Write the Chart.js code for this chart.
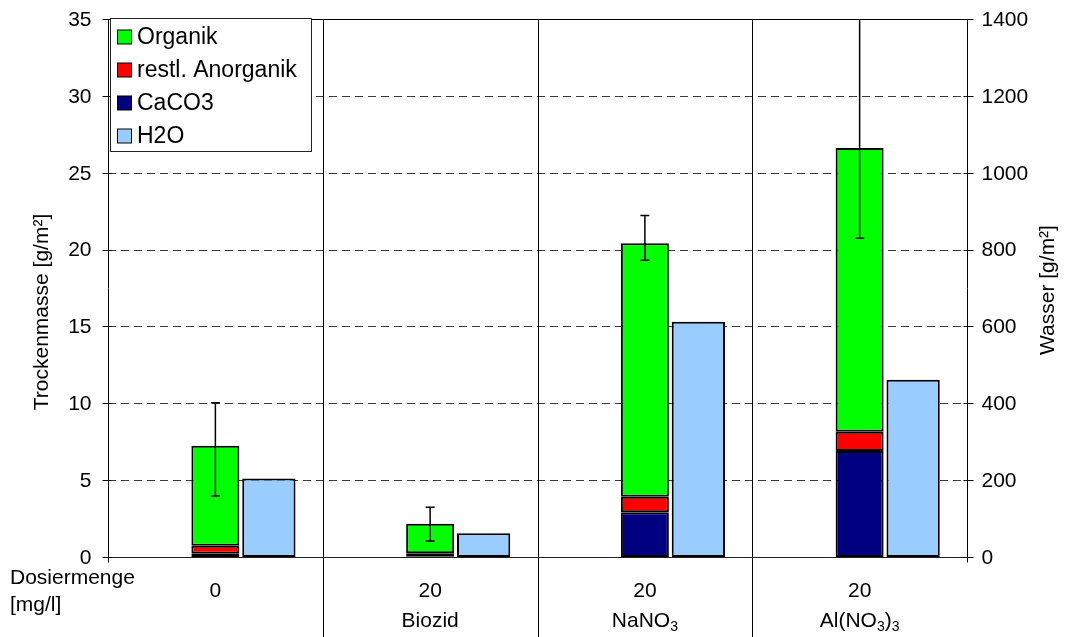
<!DOCTYPE html>
<html>
<head>
<meta charset="utf-8">
<script src="https://cdn.jsdelivr.net/npm/chart.js@4/dist/chart.umd.min.js"></script>
<style>
  html, body { margin: 0; padding: 0; background: #ffffff; }
  #wrap { width: 1072px; height: 637px; }
</style>
</head>
<body>
<div id="wrap"><canvas id="c" width="1072" height="637"></canvas></div>
<script>
// Treatments (categories) and their axis labels
const categories = ['0', 'Biozid', 'NaNO3', 'Al(NO3)3'];
const doseLabels = ['0', '20', '20', '20'];
// second label line: pieces of [text, isSubscript]
const treatmentParts = [
  [],
  [['Biozid', false]],
  [['NaNO', false], ['3', true]],
  [['Al(NO', false], ['3', true], [')', false], ['3', true]]
];

// Dry mass components [g/m²], stacked bottom to top
const caco3 = [0.21, 0.05, 2.91, 6.90];
const restAnorganik = [0.53, 0.19, 1.01, 1.25];
const organik = [6.50, 1.93, 16.49, 18.45];
// Water [g/m²], right axis
const h2o = [204, 62, 612, 461];
// Error range of total dry mass [g/m²]
const errLow = [3.97, 1.04, 19.30, 20.73];
const errHigh = [10.04, 3.23, 22.22, 36.50];

// Axis ticks
const leftTicks = [0, 5, 10, 15, 20, 25, 30, 35];
const rightTicks = [0, 200, 400, 600, 800, 1000, 1200, 1400];

const FONT = '"Liberation Sans", Arial, sans-serif';

const decorations = {
  id: 'decorations',
  beforeDatasetsDraw(chart) {
    const { ctx, chartArea: a, scales } = chart;
    const y = scales.y;
    ctx.save();
    // dashed horizontal grid
    ctx.strokeStyle = '#3a3a3a';
    ctx.lineWidth = 1;
    ctx.setLineDash([8, 5]);
    leftTicks.forEach(v => {
      if (v === 0 || v === 35) return;
      const py = Math.round(y.getPixelForValue(v)) + 0.5;
      ctx.beginPath();
      ctx.moveTo(a.left, py);
      ctx.lineTo(a.right, py);
      ctx.stroke();
    });
    ctx.setLineDash([]);
    // category separators, running down through the label area
    const x = scales.x;
    const w = (a.right - a.left) / categories.length;
    ctx.strokeStyle = '#000';
    ctx.lineWidth = 1;
    for (let i = 1; i < categories.length; i++) {
      const px = Math.round(x.getPixelForValue(i) - w / 2) + 0.5;
      ctx.beginPath();
      ctx.moveTo(px, a.top);
      ctx.lineTo(px, chart.height);
      ctx.stroke();
    }
    ctx.restore();
  },
  afterDatasetsDraw(chart) {
    const { ctx, chartArea: a, scales } = chart;
    const y = scales.y, y2 = scales.y2, x = scales.x;
    ctx.save();

    // error bars on the stacked dry mass bars
    const meta = chart.getDatasetMeta(3);
    ctx.save();
    ctx.beginPath();
    ctx.rect(a.left, a.top, a.right - a.left, a.bottom - a.top);
    ctx.clip();
    ctx.strokeStyle = '#000';
    ctx.lineWidth = 1.5;
    meta.data.forEach((bar, i) => {
      const cx = bar.x;
      const lo = y.getPixelForValue(errLow[i]);
      const hi = y.getPixelForValue(errHigh[i]);
      ctx.beginPath();
      ctx.moveTo(cx, lo);
      ctx.lineTo(cx, hi);
      ctx.moveTo(cx - 4.5, lo);
      ctx.lineTo(cx + 4.5, lo);
      ctx.moveTo(cx - 4.5, hi);
      ctx.lineTo(cx + 4.5, hi);
      ctx.stroke();
    });
    ctx.restore();

    // frame and axes
    ctx.strokeStyle = '#000';
    ctx.lineWidth = 1;
    const L = Math.round(a.left) + 0.5, R = Math.round(a.right) + 0.5;
    const T = Math.round(a.top) + 0.5, B = Math.round(a.bottom) + 0.5;
    ctx.beginPath();
    ctx.moveTo(L, B); ctx.lineTo(L, T); ctx.lineTo(R, T); ctx.lineTo(R, B);
    ctx.stroke();
    ctx.strokeStyle = '#222';
    ctx.beginPath();
    ctx.moveTo(L, B); ctx.lineTo(R, B);
    ctx.stroke();
    ctx.strokeStyle = '#000';

    // tick marks
    ctx.beginPath();
    leftTicks.forEach(v => {
      const py = Math.round(y.getPixelForValue(v)) + 0.5;
      ctx.moveTo(L - 6, py); ctx.lineTo(L + 3, py);
    });
    rightTicks.forEach(v => {
      const py = Math.round(y2.getPixelForValue(v)) + 0.5;
      ctx.moveTo(R - 4, py); ctx.lineTo(R + 6, py);
    });
    ctx.moveTo(L, B); ctx.lineTo(L, B + 5);
    ctx.moveTo(R, B); ctx.lineTo(R, B + 5);
    ctx.stroke();

    // tick labels
    ctx.fillStyle = '#000';
    ctx.font = '21px ' + FONT;
    ctx.textBaseline = 'middle';
    ctx.textAlign = 'right';
    leftTicks.forEach(v => ctx.fillText(String(v), L - 17, y.getPixelForValue(v) + 1));
    ctx.textAlign = 'left';
    rightTicks.forEach(v => ctx.fillText(String(v), R + 14, y2.getPixelForValue(v) + 1));

    // axis titles
    ctx.save();
    ctx.translate(42, 312);
    ctx.rotate(-Math.PI / 2);
    ctx.textAlign = 'center';
    ctx.fillText('Trockenmasse [g/m²]', 0, 0);
    ctx.restore();
    ctx.save();
    ctx.translate(1048, 290);
    ctx.rotate(-Math.PI / 2);
    ctx.textAlign = 'center';
    ctx.fillText('Wasser [g/m²]', 0, 0);
    ctx.restore();

    // category labels
    ctx.textAlign = 'left';
    ctx.fillText('Dosiermenge', 10, 578);
    ctx.fillText('[mg/l]', 10, 605);
    ctx.textAlign = 'center';
    categories.forEach((c, i) => {
      const cx = x.getPixelForValue(i);
      ctx.font = '21px ' + FONT;
      ctx.fillText(doseLabels[i], cx, 591);
      const parts = treatmentParts[i];
      if (!parts.length) return;
      let total = 0;
      parts.forEach(([t, sub]) => {
        ctx.font = (sub ? '14px ' : '21px ') + FONT;
        total += ctx.measureText(t).width;
      });
      let px = cx - total / 2;
      ctx.textAlign = 'left';
      parts.forEach(([t, sub]) => {
        ctx.font = (sub ? '14px ' : '21px ') + FONT;
        ctx.fillText(t, px, sub ? 627 : 621);
        px += ctx.measureText(t).width;
      });
      ctx.textAlign = 'center';
    });

    // legend
    const lx = 110.5, ly = 18.5, lw = 201, lh = 133;
    ctx.fillStyle = '#fff';
    ctx.fillRect(lx, ly, lw, lh);
    ctx.strokeStyle = '#222';
    ctx.lineWidth = 1;
    ctx.strokeRect(lx, ly, lw, lh);
    const order = [3, 2, 1, 4];
    ctx.font = '23px ' + FONT;
    ctx.textAlign = 'left';
    order.forEach((di, k) => {
      const ds = chart.data.datasets[di];
      const cy = 37 + k * 33;
      ctx.fillStyle = ds.backgroundColor;
      ctx.fillRect(117.5, cy - 7, 14, 14);
      ctx.strokeStyle = '#000';
      ctx.strokeRect(117.5, cy - 7, 14, 14);
      ctx.fillStyle = '#000';
      ctx.fillText(ds.label, 137, cy + 1);
    });

    ctx.restore();
  }
};

const catPct = 0.7474;
const barCommon = {
  borderColor: '#000',
  borderWidth: 2,
  borderSkipped: false,
  inflateAmount: 0,
  categoryPercentage: catPct
};

new Chart(document.getElementById('c'), {
  type: 'bar',
  data: {
    labels: categories,
    datasets: [
      // empty slot on the left so the dry mass bar sits on the category centre
      { label: '', data: [0, 0, 0, 0], stack: 'slot', yAxisID: 'y', backgroundColor: 'rgba(0,0,0,0)', borderWidth: 0, categoryPercentage: catPct, barPercentage: 0.9 },
      { label: 'CaCO3', data: caco3, stack: 'dry', yAxisID: 'y', backgroundColor: '#000080', barPercentage: 0.897, ...barCommon },
      { label: 'restl. Anorganik', data: restAnorganik, stack: 'dry', yAxisID: 'y', backgroundColor: '#ff0000', barPercentage: 0.897, ...barCommon },
      { label: 'Organik', data: organik, stack: 'dry', yAxisID: 'y', backgroundColor: '#00ff00', barPercentage: 0.897, ...barCommon },
      { label: 'H2O', data: h2o, stack: 'water', yAxisID: 'y2', backgroundColor: '#99ccff', barPercentage: 0.996, ...barCommon }
    ]
  },
  options: {
    responsive: false,
    animation: false,
    devicePixelRatio: 1,
    layout: { padding: { left: 108, right: 105, top: 19, bottom: 80 } },
    plugins: { legend: { display: false }, tooltip: { enabled: false } },
    scales: {
      x: { type: 'category', display: false, stacked: true, offset: true },
      y: { type: 'linear', display: false, stacked: true, min: 0, max: 35 },
      y2: { type: 'linear', display: false, stacked: true, position: 'right', min: 0, max: 1400 }
    }
  },
  plugins: [decorations]
});
</script>
</body>
</html>
